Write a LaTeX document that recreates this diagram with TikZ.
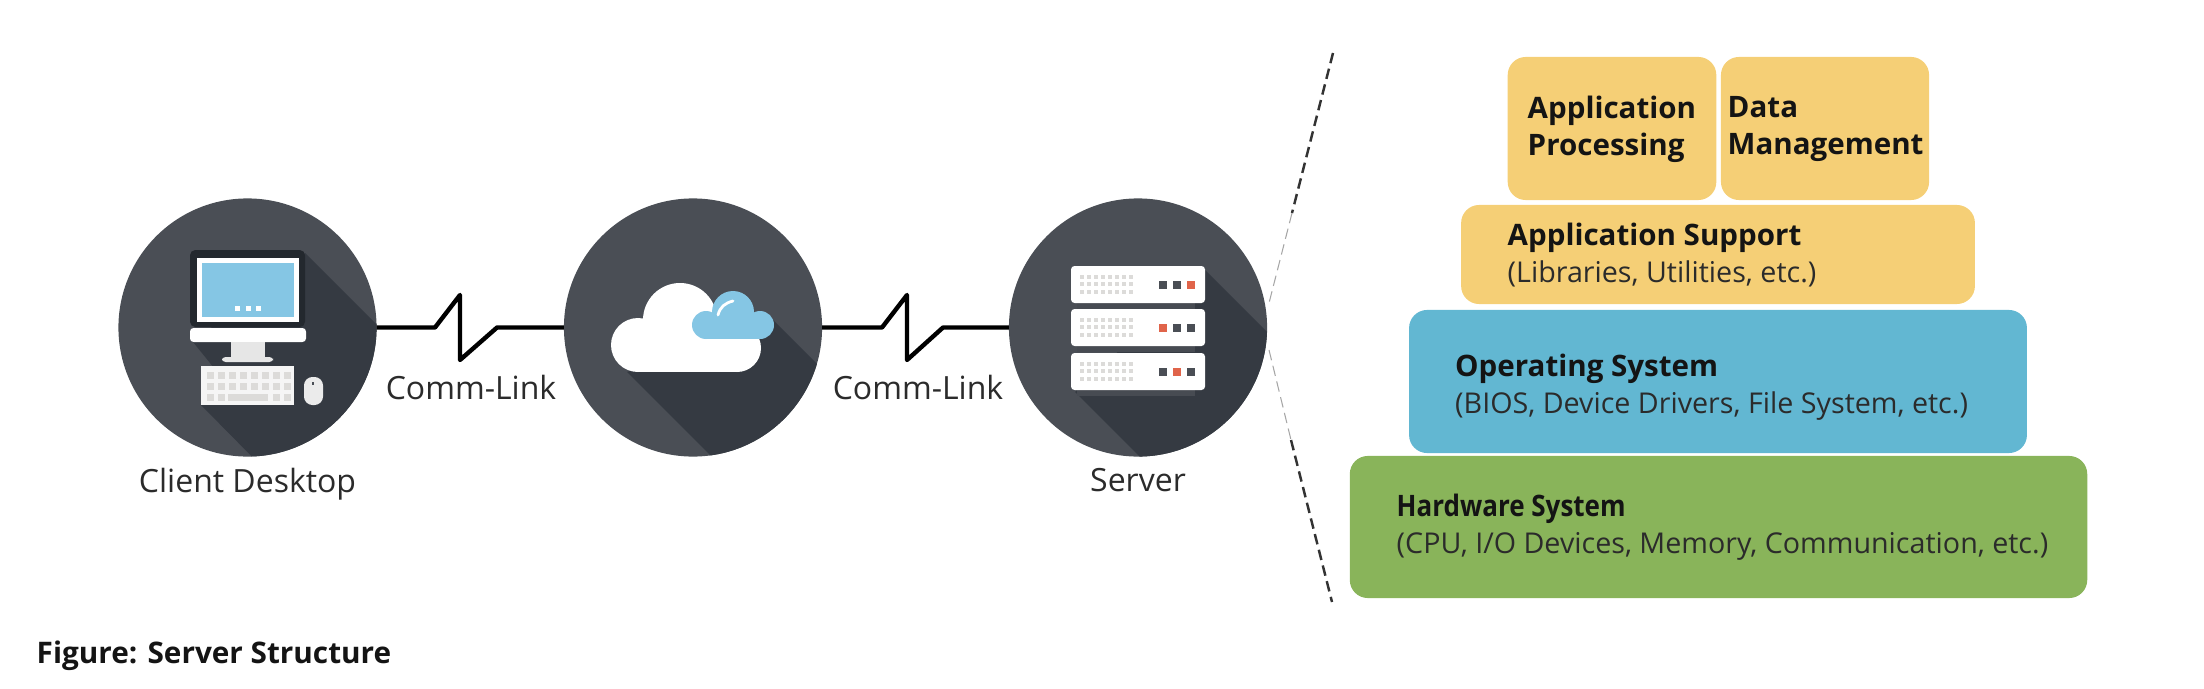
\documentclass[tikz,border=0pt]{standalone}
\usepackage{fontspec}
\usetikzlibrary{positioning}
\setmainfont{Open Sans}
\definecolor{hubgrey}{HTML}{4A4E55}
\definecolor{hubshade}{HTML}{353A42}
\definecolor{framedark}{HTML}{23282E}
\definecolor{skyblue}{HTML}{85C6E4}
\definecolor{keygrey}{HTML}{DCDBD9}
\definecolor{standgrey}{HTML}{E6E6E6}
\definecolor{ledred}{HTML}{E0644A}
\definecolor{appyellow}{HTML}{F5CF76}
\definecolor{osblue}{HTML}{62B7D2}
\definecolor{hwgreen}{HTML}{89B45A}
\definecolor{textdark}{HTML}{2B2B2B}

\newcommand{\layertitle}[1]{{\fontsize{8.4pt}{10.5pt}\selectfont\bfseries\color{black!92}#1}}
\newcommand{\layerdetail}[1]{{\fontsize{8.15pt}{10.5pt}\selectfont #1}}

\tikzstyle{hub} = [circle, fill=hubgrey, minimum size=2.58cm, inner sep=0pt, outer sep=0pt]
\tikzstyle{commlink} = [draw=black, line width=1.25pt, line join=round]
\tikzstyle{caption} = [font=\fontsize{9.1pt}{10pt}\selectfont, text=textdark, inner sep=0pt]
\tikzstyle{layer} = [rectangle, rounded corners=0.18cm, inner sep=0pt, outer sep=0pt]
\tikzstyle{layertext} = [align=left, anchor=west, inner sep=0pt,
  font=\fontsize{8.4pt}{10.5pt}\selectfont, text=textdark]
\tikzstyle{divider} = [draw=black!80, line width=0.7pt, dash pattern=on 3pt off 1.6pt]
\tikzstyle{fadeline} = [draw=black!35, line width=0.3pt, dash pattern=on 3pt off 1.6pt]

\begin{document}
\begin{tikzpicture}[x=0.01cm, y=-0.01cm]
        \useasboundingbox (0,0) rectangle (2204,688);

        \node [hub] (client) at (247.5,327.5) {};
        \node [hub] (cloud)  at (693,327.5)   {};
        \node [hub] (server) at (1138,327.5)  {};

        % long shadows
        \begin{scope}
          \clip (client.center) circle (1.29cm);
          \fill[hubshade] (305,253) -- (405,353) -- (405,480) -- (275,480) -- (201,405) -- (240,400) -- (193,342) -- cycle;
        \end{scope}
        \begin{scope}
          \clip (cloud.center) circle (1.29cm);
          \fill[hubshade] (773,320) -- (853,400) -- (853,480) -- (735,480) -- (627,372) -- cycle;
        \end{scope}
        \begin{scope}
          \clip (server.center) circle (1.29cm);
          \fill[hubshade] (1205,270) -- (1300,365) -- (1300,480) -- (1163,480) -- (1075,392) -- cycle;
        \end{scope}

        % desktop
        \fill[framedark, rounded corners=1.5pt] (190,250) rectangle (305,327);
        \fill[white] (197,258) rectangle (299,322);
        \fill[skyblue] (202,263) rectangle (294,317);
        \foreach \dotx in {237,248,258}
          \fill[white] (\dotx-2.5,305.5) rectangle (\dotx+2.5,310.5);
        \fill[white, rounded corners=1pt] (190,328) rectangle (306,342);
        \fill[standgrey] (231,342) rectangle (265,357);
        \fill[standgrey, rounded corners=1pt] (222,357) rectangle (273,362);
        \fill[white!96!black] (201,366) rectangle (294,405);
        \foreach \keyx in {210,221,...,287}
          \foreach \keyy in {375,386}
            \fill[keygrey] (\keyx-3.5,\keyy-3.5) rectangle (\keyx+3.5,\keyy+3.5);
        \foreach \keyx in {210,221,276,287}
          \fill[keygrey] (\keyx-3.5,393.5) rectangle (\keyx+3.5,400.5);
        \fill[keygrey] (228,393.5) rectangle (268,400.5);
        \fill[white!92!black, rounded corners=2.4pt] (304,377) rectangle (323,405);
        \fill[hubgrey] (312,382) rectangle (314,385);

        % cloud
        \fill[white] (638,345) circle (27);
        \fill[white] (680,320) circle (37);
        \fill[white] (737,348) circle (24);
        \fill[white] (638,335) rectangle (737,372);
        \fill[skyblue] (733,312) circle (21);
        \fill[skyblue] (706,325) circle (14);
        \fill[skyblue] (760,325) circle (14);
        \fill[skyblue] (706,320) rectangle (760,339);
        \draw[white, line width=0.8pt, line cap=round] (718,315) .. controls (720,307) and (725,303) .. (733,301);

        % server
        \foreach \racky/\ledx in {266/1191,309/1163,353/1177} {
          \fill[hubgrey!85!hubshade] (1077,\racky+37) rectangle (1195,\racky+43);
          \fill[white, rounded corners=1pt] (1071,\racky) rectangle (1205,\racky+37);
          \foreach \holex in {1082,1089,...,1132}
            \foreach \holey in {11,18,26}
              \fill[keygrey] (\holex-1.7,\racky+\holey-1.7) rectangle (\holex+1.7,\racky+\holey+1.7);
          \foreach \boxx in {1163,1177,1191}
            \fill[hubgrey] (\boxx-3.7,\racky+15.3) rectangle (\boxx+3.7,\racky+22.7);
          \fill[ledred] (\ledx-3.7,\racky+15.3) rectangle (\ledx+3.7,\racky+22.7);
        }

        \draw[commlink] (client.east) -- (435,327.5) -- (460,295) -- (460,360) -- (497,327.5) -- (cloud.west);
        \draw[commlink] (cloud.east) -- (882,327.5) -- (907,295) -- (907,360) -- (943,327.5) -- (server.west);

        \node [caption, below=0.11cm of client] (clientlabel) {Client Desktop};
        \node [caption, below=0.11cm of server] (serverlabel) {Server};
        \node [caption] (linklabela) at (471,387) {Comm-Link};
        \node [caption] (linklabelb) at (918,387) {Comm-Link};

        \coordinate (divtop) at (1333,53);
        \coordinate (divupper) at (1292,213);
        \coordinate (divapex) at (1269,303);
        \coordinate (divlow) at (1269,350);
        \coordinate (divlower) at (1291,440);
        \coordinate (divbottom) at (1332,602);
        \draw[divider] (divtop) -- (divupper);
        \draw[fadeline] (divupper) -- (divapex);
        \draw[fadeline] (divlow) -- (divlower);
        \draw[divider] (divlower) -- (divbottom);

        \node [layer, fill=appyellow, minimum width=2.085cm, minimum height=1.43cm] (procbox) at (1612,128.5) {};
        \node [layer, fill=appyellow, minimum width=2.08cm, minimum height=1.43cm]  (databox) at (1825,128.5) {};
        \node [layer, fill=appyellow, minimum width=5.135cm, minimum height=0.99cm] (supportbox) at (1718,254.5) {};
        \node [layer, fill=osblue, minimum width=6.175cm, minimum height=1.43cm]    (osbox) at (1718,381.5) {};
        \node [layer, fill=hwgreen, minimum width=7.37cm, minimum height=1.42cm]    (hwbox) at (1718.5,527) {};

        \node [layertext] (proctext) at (1527,129) {\layertitle{Application}\\\layertitle{Processing}};
        \node [layertext] (datatext) at (1727,129) {\layertitle{Data}\\\layertitle{Management}};
        \node [layertext] (supporttext) at (1507,255.5) {\layertitle{Application Support}\\\layerdetail{(Libraries, Utilities, etc.)}};
        \node [layertext] (ostext) at (1454.5,387) {\layertitle{Operating System}\\\layerdetail{(BIOS, Device Drivers, File System, etc.)}};
        \node [layertext] (hwtext) at (1396,527.5) {\layertitle{\scalebox{0.88}[1]{Hardware System}}\\\layerdetail{(CPU, I/O Devices, Memory, Communication, etc.)}};

        \node [caption, anchor=base west, font=\fontsize{8.45pt}{10pt}\selectfont, text=black!92] (figcaption) at (36,663) {\textbf{Figure: Server Structure}};
      \end{tikzpicture}
\end{document}
